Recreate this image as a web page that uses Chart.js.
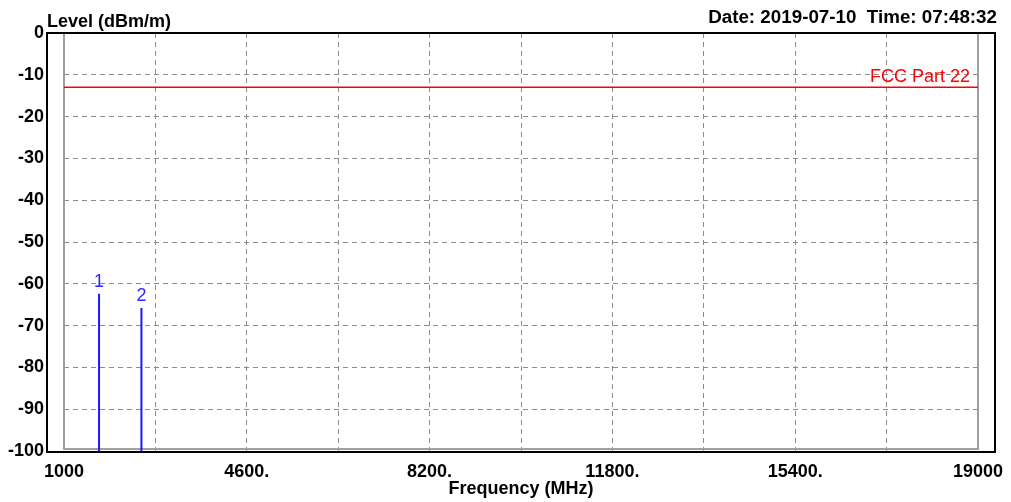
<!DOCTYPE html>
<html><head><meta charset="utf-8">
<script src="https://cdn.jsdelivr.net/npm/chart.js@4/dist/chart.umd.min.js"></script>
<style>html,body{margin:0;padding:0;background:#fff;overflow:hidden}</style>
</head><body>
<canvas id="c" width="1011" height="502" style="display:block;width:1011px;height:502px"></canvas>
<script>
// ---- data ----
const xMin = 1000, xMax = 19000, xStep = 1800;
const xTickLabels = ["1000", "4600.", "8200.", "11800.", "15400.", "19000"];
const yMin = -100, yMax = 0, yStep = 10;
const markerNames = ["1", "2"];
const markerFreqs = [1690, 2525];
const markerLevels = [-62.4, -65.8];
const limitName = "FCC Part 22";
const limitFreqs = [1000, 19000];
const limitLevels = [-13, -13];
const yTitle = "Level (dBm/m)";
const xTitle = "Frequency (MHz)";
const stamp = "Date: 2019-07-10  Time: 07:48:32";

const FONT = "'Liberation Sans', Arial, sans-serif";

const markerPts = [];
markerFreqs.forEach((f, i) => {
  markerPts.push({x: f, y: yMin}, {x: f, y: markerLevels[i]}, {x: f, y: null});
});
const limitPts = limitFreqs.map((f, i) => ({x: f, y: limitLevels[i]}));

const framePlugin = {
  id: 'frames',
  beforeDatasetsDraw(chart) {
    const {ctx, chartArea: a} = chart;
    ctx.save();
    ctx.strokeStyle = '#a0a0a0';
    ctx.lineWidth = 2;
    ctx.strokeRect(a.left, a.top, a.right - a.left, a.bottom - 2 - a.top);
    ctx.restore();
  },
  afterDraw(chart) {
    const {ctx, chartArea: a, scales} = chart;
    ctx.save();
    // outer black box
    ctx.strokeStyle = '#000';
    ctx.lineWidth = 2;
    ctx.strokeRect(47, a.top, 948, a.bottom + 1 - a.top);
    // titles
    ctx.fillStyle = '#000';
    ctx.font = "bold 18px " + FONT;
    ctx.textBaseline = 'alphabetic';
    ctx.textAlign = 'left';
    ctx.fillText(yTitle, 47, 27);
    ctx.textAlign = 'right';
    ctx.font = "bold 18.8px " + FONT;
    ctx.fillText(stamp, 997, 23);
    // limit label
    ctx.fillStyle = '#ff0000';
    ctx.font = "18px " + FONT;
    ctx.textAlign = 'right';
    ctx.fillText(limitName, a.right - 8, scales.y.getPixelForValue(limitLevels[1]) - 5);
    // marker labels
    ctx.fillStyle = '#2a2aff';
    ctx.textAlign = 'center';
    markerNames.forEach((n, i) => {
      ctx.fillText(n, scales.x.getPixelForValue(markerFreqs[i]), scales.y.getPixelForValue(markerLevels[i]) - 7);
    });
    ctx.restore();
  }
};

const gridColor = (ctx) => {
  const v = ctx.tick && ctx.tick.value;
  if (ctx.scale.axis === 'x') return (v === xMin || v === xMax) ? 'rgba(0,0,0,0)' : '#8c8c8c';
  return (v === yMin || v === yMax) ? 'rgba(0,0,0,0)' : '#8c8c8c';
};

new Chart(document.getElementById('c'), {
  type: 'line',
  data: {
    datasets: [
      {label: 'limit', data: limitPts, borderColor: '#ff0000', borderWidth: 1.5, pointRadius: 0, fill: false},
      {label: 'markers', data: markerPts, borderColor: '#1a1aff', borderWidth: 2, pointRadius: 0, spanGaps: false, fill: false}
    ]
  },
  options: {
    responsive: false,
    devicePixelRatio: 1,
    animation: false,
    events: [],
    layout: {padding: {top: 33, right: 33, left: 0, bottom: 0}},
    plugins: {legend: {display: false}, tooltip: {enabled: false}, title: {display: false}},
    scales: {
      x: {
        type: 'linear', min: xMin, max: xMax,
        afterFit(s) { s.height = 51; s.paddingRight = 0; s.paddingLeft = 0; },
        grid: {color: gridColor, lineWidth: 1, drawTicks: false},
        border: {display: false, dash: [5, 4]},
        ticks: {
          stepSize: xStep, autoSkip: false, maxRotation: 0, padding: 10,
          color: '#000', font: {family: FONT, size: 18, weight: 'bold'},
          callback(v) { const k = (v - xMin) / (2 * xStep); return Number.isInteger(k) ? xTickLabels[k] : ''; }
        },
        title: {display: true, text: xTitle, color: '#000', font: {family: FONT, size: 18, weight: 'bold'}, padding: {top: 0, bottom: 2}}
      },
      y: {
        type: 'linear', min: yMin, max: yMax,
        afterFit(s) { s.width = 64; },
        grid: {color: gridColor, lineWidth: 1, drawTicks: false},
        border: {display: false, dash: [5, 4]},
        ticks: {
          stepSize: yStep, padding: 20, color: '#000',
          font: {family: FONT, size: 18, weight: 'bold'}
        }
      }
    }
  },
  plugins: [framePlugin]
});
</script>
</body></html>
